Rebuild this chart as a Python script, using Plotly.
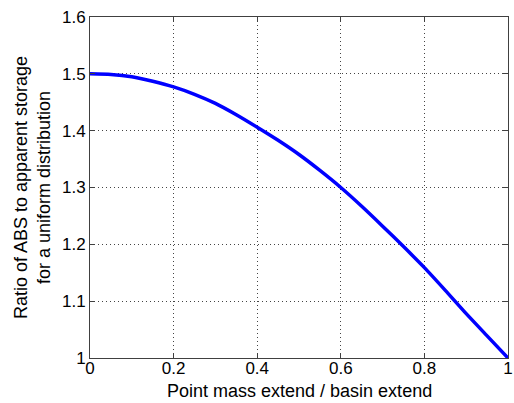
import plotly.graph_objects as go

# Ratio of ABS to apparent storage versus relative point-mass extent
extent_ratio = [0.0, 0.05, 0.1, 0.15, 0.2, 0.25, 0.3, 0.35, 0.4, 0.45, 0.5,
                0.55, 0.6, 0.65, 0.7, 0.75, 0.8, 0.85, 0.9, 0.95, 1.0]
abs_ratio = [1.500, 1.499, 1.495, 1.487, 1.477, 1.464, 1.448, 1.428, 1.406, 1.383, 1.358,
             1.330, 1.300, 1.267, 1.232, 1.196, 1.159, 1.119, 1.078, 1.039, 1.000]

x_ticks = [0, 0.2, 0.4, 0.6, 0.8, 1]
x_tick_text = ["0", "0.2", "0.4", "0.6", "0.8", "1"]
y_ticks = [1, 1.1, 1.2, 1.3, 1.4, 1.5, 1.6]
y_tick_text = ["1", "1.1", "1.2", "1.3", "1.4", "1.5", "1.6"]

FONT = "Liberation Sans, Arial, sans-serif"
W, H = 514, 403
M = dict(l=90, r=1, t=17, b=45)
plot_h = H - M["t"] - M["b"]

fig = go.Figure(go.Scatter(
    x=extent_ratio, y=abs_ratio, mode="lines",
    line=dict(color="#0000FF", width=3.5, shape="spline", smoothing=0.6),
))

axis_common = dict(
    showgrid=True, gridcolor="#444444", griddash="1px,3px", gridwidth=1,
    showline=True, linecolor="#404040", linewidth=1, mirror="ticks",
    ticks="inside", ticklen=5, tickcolor="#404040",
    zeroline=False, ticklabeloverflow="allow",
    tickfont=dict(family=FONT, size=17, color="black"),
)

fig.update_xaxes(range=[0, 1], tickvals=x_ticks, ticktext=x_tick_text,
                 ticklabelstandoff=-5, **axis_common)
fig.update_yaxes(
    range=[1, 1.6], tickvals=y_ticks, ticktext=y_tick_text,
    title=dict(text="Ratio of ABS to apparent storage<br>for a uniform distribution",
               standoff=6,
               font=dict(family=FONT, size=18, color="black")),
    **axis_common,
)

# x-axis title pinned to the bottom edge of the figure
fig.add_annotation(
    text="Point mass extend / basin extend",
    xref="paper", yref="paper", x=0.5, y=-M["b"] / plot_h,
    xanchor="center", yanchor="bottom", showarrow=False,
    font=dict(family=FONT, size=18, color="black"),
)

fig.update_layout(
    width=W, height=H, margin=M,
    paper_bgcolor="white", plot_bgcolor="white",
    showlegend=False,
)

fig.write_html("out.html")
